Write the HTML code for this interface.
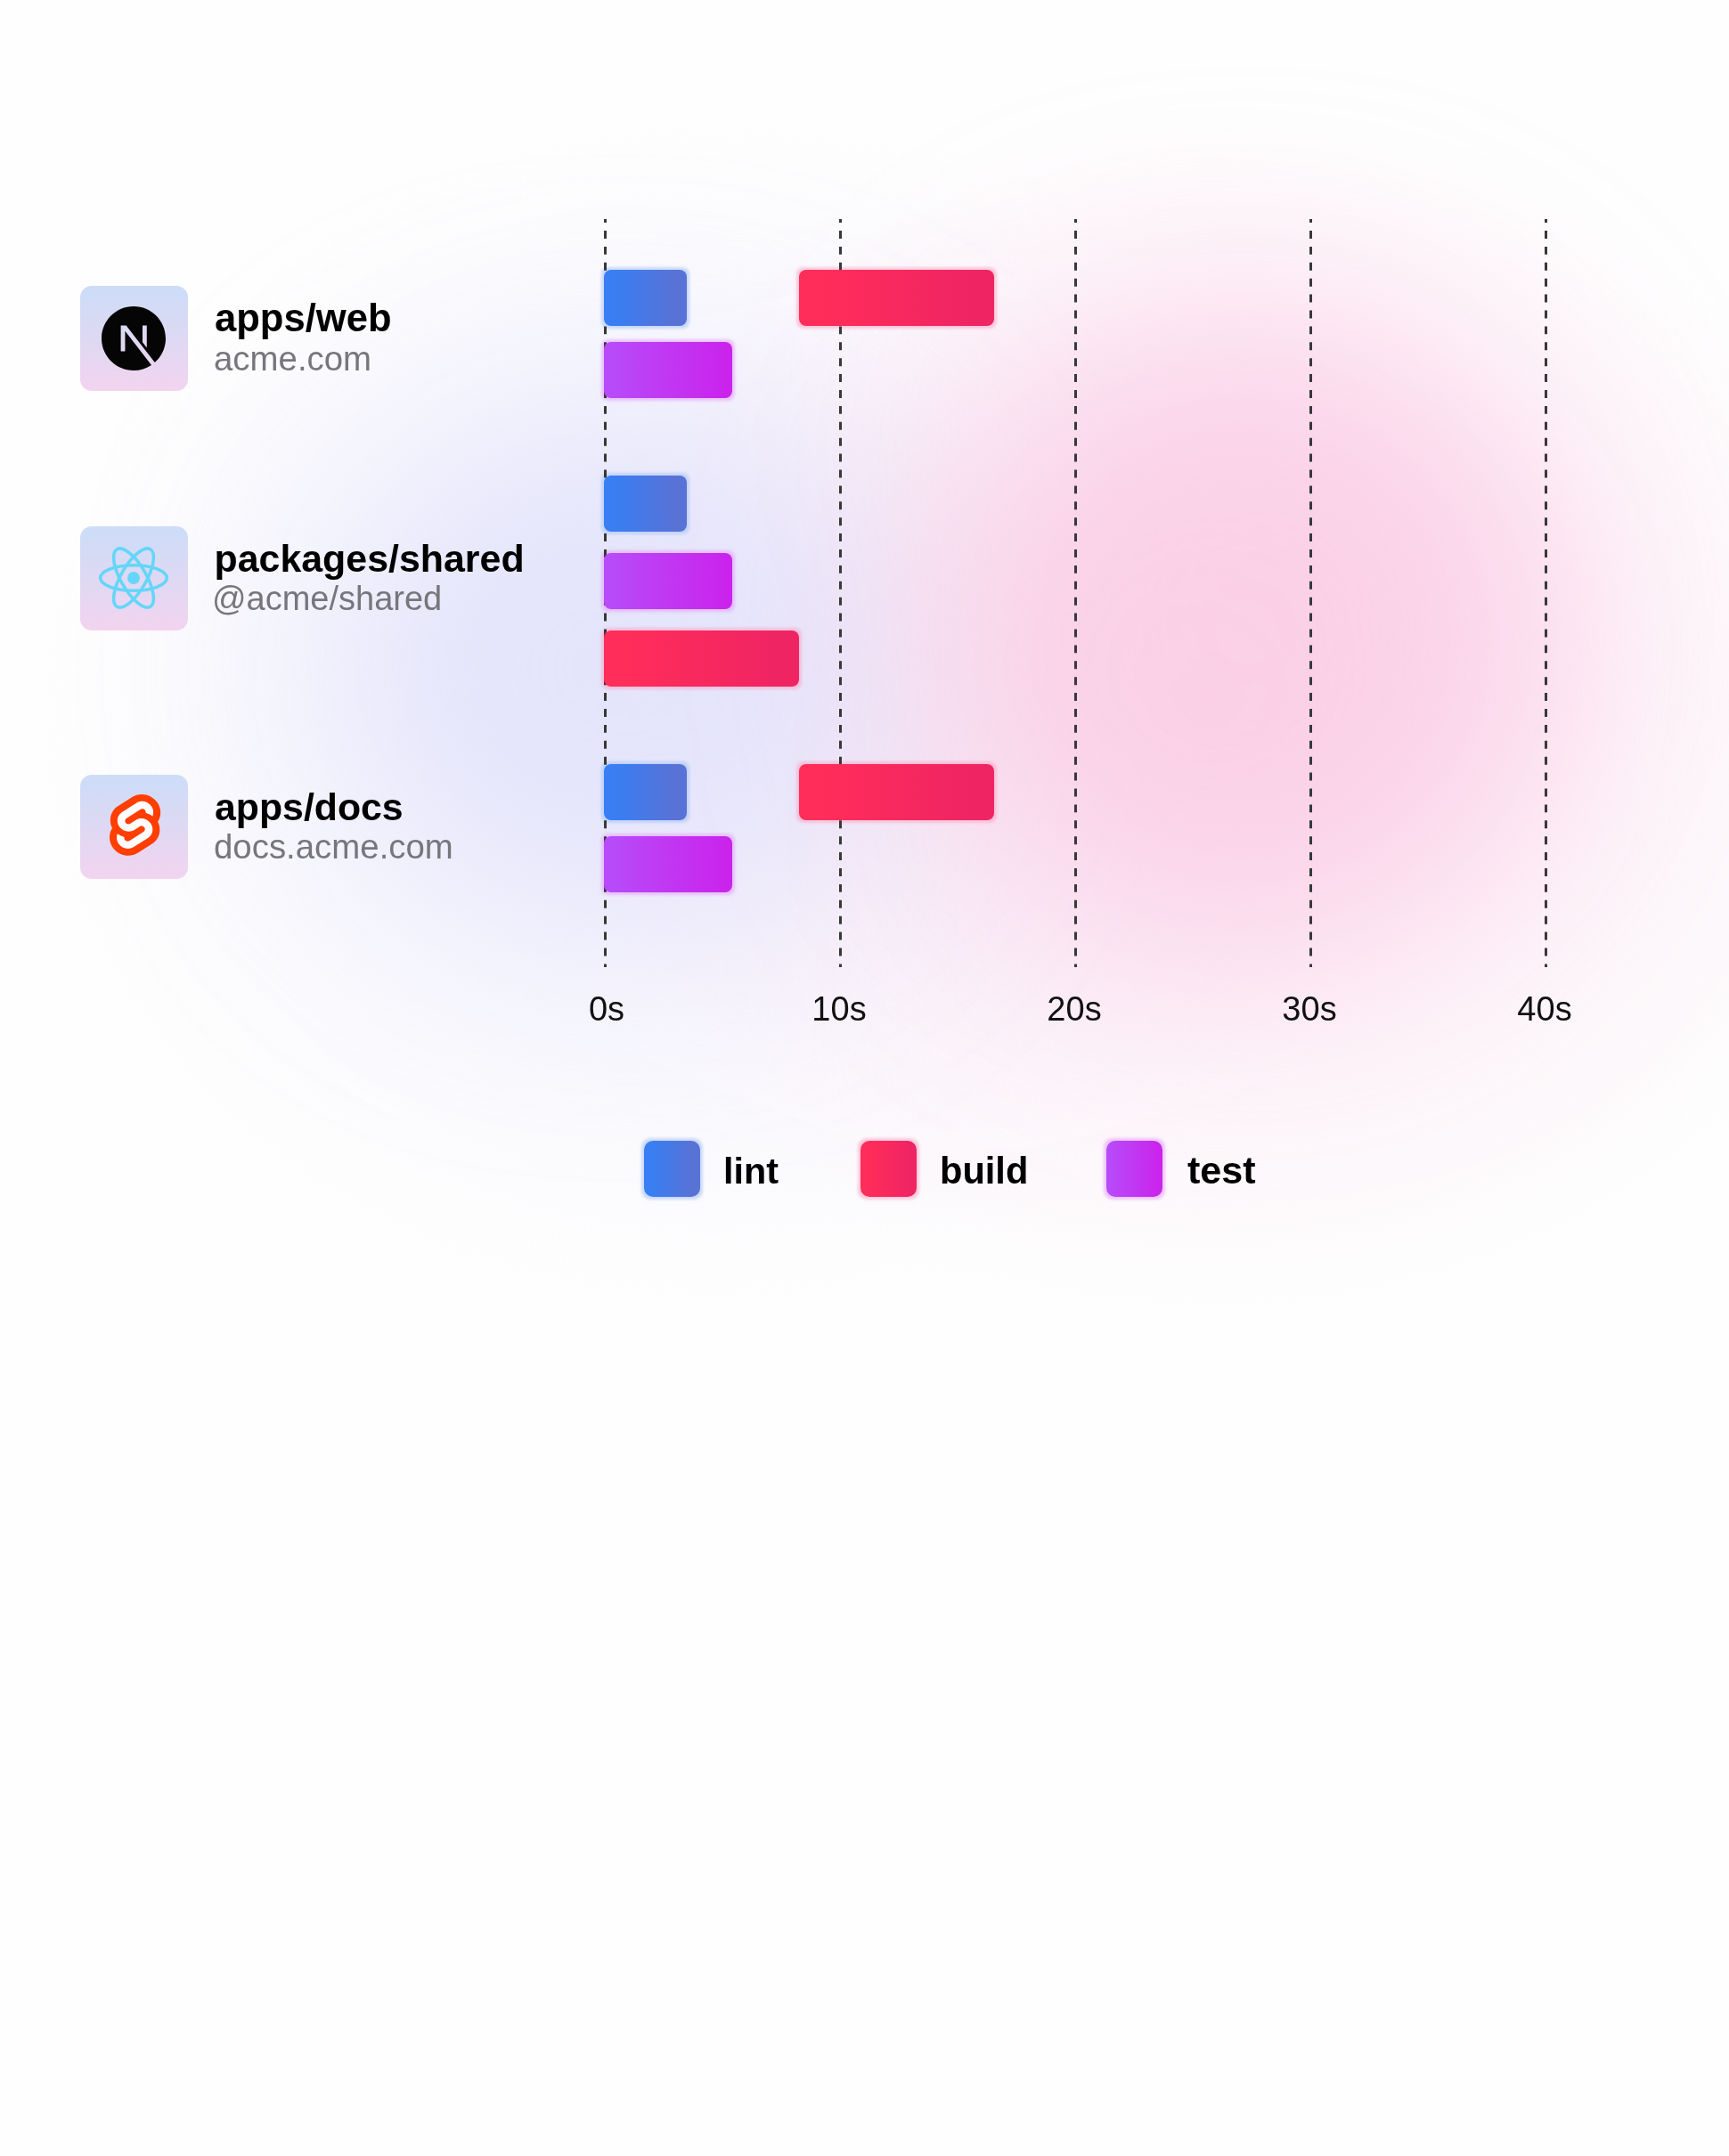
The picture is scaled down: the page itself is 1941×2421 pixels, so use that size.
<!DOCTYPE html>
<html>
<head>
<meta charset="utf-8">
<style>
html,body{margin:0;padding:0;}
body{width:1941px;height:2421px;overflow:hidden;position:relative;background:#fefefe;font-family:"Liberation Sans",sans-serif;}
#bg{position:absolute;left:0;top:0;width:1941px;height:2421px;}
svg{position:absolute;left:0;top:0;will-change:transform;}
</style>
</head>
<body>
<svg id="bg" width="1941" height="2421" viewBox="0 0 1941 2421">
  <defs>
    <filter id="b120" x="-50%" y="-50%" width="200%" height="200%"><feGaussianBlur stdDeviation="120"/></filter>
    <radialGradient id="tailB" cx="0.5" cy="0.5" r="0.5">
      <stop offset="0" stop-color="#eceafb" stop-opacity="0.75"/>
      <stop offset="0.55" stop-color="#f1f0fc" stop-opacity="0.45"/>
      <stop offset="0.85" stop-color="#f6f5fd" stop-opacity="0.22"/>
      <stop offset="1" stop-color="#fafafe" stop-opacity="0"/>
    </radialGradient>
    <radialGradient id="tailP" cx="0.5" cy="0.5" r="0.5">
      <stop offset="0" stop-color="#fbe2f0" stop-opacity="0.8"/>
      <stop offset="0.55" stop-color="#fbe8f3" stop-opacity="0.5"/>
      <stop offset="0.85" stop-color="#fcf1f8" stop-opacity="0.3"/>
      <stop offset="1" stop-color="#fdf8fb" stop-opacity="0"/>
    </radialGradient>
  </defs>
  <ellipse cx="800" cy="800" rx="780" ry="680" fill="url(#tailB)"/>
  <ellipse cx="1360" cy="800" rx="800" ry="680" fill="url(#tailP)"/>
  <ellipse cx="700" cy="750" rx="340" ry="300" fill="#e4e4fb" filter="url(#b120)"/>
  <ellipse cx="1400" cy="710" rx="360" ry="360" fill="#fbcde6" fill-opacity="0.9" filter="url(#b120)"/>
</svg>

<svg width="1941" height="2421" viewBox="0 0 1941 2421">
  <defs>
    <linearGradient id="iconBg" x1="0" y1="0" x2="0" y2="1">
      <stop offset="0.1" stop-color="#cfdcf7"/>
      <stop offset="1" stop-color="#f2d4ef"/>
    </linearGradient>
    <linearGradient id="gLint" x1="0" y1="0" x2="1" y2="0">
      <stop offset="0.15" stop-color="#397ef2"/>
      <stop offset="0.85" stop-color="#5872d6"/>
    </linearGradient>
    <linearGradient id="gBuild" x1="0" y1="0" x2="1" y2="0">
      <stop offset="0.1" stop-color="#ff2d59"/>
      <stop offset="0.9" stop-color="#ef2463"/>
    </linearGradient>
    <linearGradient id="gTest" x1="0" y1="0" x2="1" y2="0">
      <stop offset="0.05" stop-color="#b74bf9"/>
      <stop offset="0.95" stop-color="#ca24ec"/>
    </linearGradient>
    <filter id="glowB" x="-30%" y="-50%" width="160%" height="200%">
      <feMorphology in="SourceAlpha" operator="dilate" radius="3" result="d"/>
      <feGaussianBlur in="d" stdDeviation="1.6" result="b"/>
      <feFlood flood-color="#a9c4f7" flood-opacity="0.6"/>
      <feComposite in2="b" operator="in"/>
    </filter>
    <filter id="glowR" x="-30%" y="-50%" width="160%" height="200%">
      <feMorphology in="SourceAlpha" operator="dilate" radius="3" result="d"/>
      <feGaussianBlur in="d" stdDeviation="1.6" result="b"/>
      <feFlood flood-color="#fb9dbd" flood-opacity="0.5"/>
      <feComposite in2="b" operator="in"/>
    </filter>
    <filter id="glowP" x="-30%" y="-50%" width="160%" height="200%">
      <feMorphology in="SourceAlpha" operator="dilate" radius="3" result="d"/>
      <feGaussianBlur in="d" stdDeviation="1.6" result="b"/>
      <feFlood flood-color="#e3a3fb" flood-opacity="0.6"/>
      <feComposite in2="b" operator="in"/>
    </filter>
  </defs>

  <!-- bar glows -->
  <rect x="678" y="303" width="93" height="63" rx="8" fill="#000" filter="url(#glowB)"/>
  <rect x="897" y="303" width="219" height="63" rx="8" fill="#000" filter="url(#glowR)"/>
  <rect x="678" y="384" width="144" height="63" rx="8" fill="#000" filter="url(#glowP)"/>
  <rect x="678" y="534" width="93" height="63" rx="8" fill="#000" filter="url(#glowB)"/>
  <rect x="678" y="621" width="144" height="63" rx="8" fill="#000" filter="url(#glowP)"/>
  <rect x="678" y="708" width="219" height="63" rx="8" fill="#000" filter="url(#glowR)"/>
  <rect x="678" y="858" width="93" height="63" rx="8" fill="#000" filter="url(#glowB)"/>
  <rect x="897" y="858" width="219" height="63" rx="8" fill="#000" filter="url(#glowR)"/>
  <rect x="678" y="939" width="144" height="63" rx="8" fill="#000" filter="url(#glowP)"/>

  <!-- dashed grid lines -->
  <g stroke="#383838" stroke-width="3" stroke-dasharray="8.95 8.95" stroke-dashoffset="4.9">
    <line x1="679.5" y1="246" x2="679.5" y2="1086"/>
    <line x1="943.5" y1="246" x2="943.5" y2="1086"/>
    <line x1="1207.5" y1="246" x2="1207.5" y2="1086"/>
    <line x1="1471.5" y1="246" x2="1471.5" y2="1086"/>
    <line x1="1735.5" y1="246" x2="1735.5" y2="1086"/>
  </g>

  <!-- bars -->
  <rect x="678" y="303" width="93" height="63" rx="8" fill="url(#gLint)"/>
  <rect x="897" y="303" width="219" height="63" rx="8" fill="url(#gBuild)"/>
  <rect x="678" y="384" width="144" height="63" rx="8" fill="url(#gTest)"/>
  <rect x="678" y="534" width="93" height="63" rx="8" fill="url(#gLint)"/>
  <rect x="678" y="621" width="144" height="63" rx="8" fill="url(#gTest)"/>
  <rect x="678" y="708" width="219" height="63" rx="8" fill="url(#gBuild)"/>
  <rect x="678" y="858" width="93" height="63" rx="8" fill="url(#gLint)"/>
  <rect x="897" y="858" width="219" height="63" rx="8" fill="url(#gBuild)"/>
  <rect x="678" y="939" width="144" height="63" rx="8" fill="url(#gTest)"/>

  <!-- icon boxes -->
  <rect x="90" y="321" width="121" height="118" rx="13" fill="url(#iconBg)"/>
  <rect x="90" y="591" width="121" height="117" rx="13" fill="url(#iconBg)"/>
  <rect x="90" y="870" width="121" height="117" rx="13" fill="url(#iconBg)"/>

  <!-- next.js -->
  <g transform="translate(114,344) scale(3)">
    <path fill="#050505" d="M18.665 21.978C16.758 23.255 14.465 24 12 24 5.377 24 0 18.623 0 12S5.377 0 12 0s12 5.377 12 12c0 3.583-1.574 6.801-4.067 9.001L9.219 7.2H7.2v9.596h1.615V9.251l9.85 12.727Zm-3.332-8.533 1.6 2.061V7.2h-1.6v6.245Z"/>
  </g>

  <!-- react -->
  <g transform="translate(150,649) scale(3.39)" fill="none" stroke="#64d6f8" stroke-width="1.05">
    <circle r="2.05" fill="#64d6f8" stroke="none"/>
    <ellipse rx="11" ry="4.2"/>
    <ellipse rx="11" ry="4.2" transform="rotate(60)"/>
    <ellipse rx="11" ry="4.2" transform="rotate(120)"/>
  </g>

  <!-- svelte -->
  <g transform="translate(123,892) scale(0.583)">
    <path fill="#ff3e00" d="M91.8 15.6C80.9-0.1 59.2-4.7 43.6 5.2L16.1 22.8C8.6 27.5 3.4 35.2 1.9 43.9c-1.3 7.300-0.2 14.8 3.3 21.3-2.4 3.6-4 7.6-4.7 11.8-1.6 8.9 0.5 18.100 5.7 25.4 11 15.7 32.6 20.3 48.2 10.4l27.5-17.5c7.5-4.7 12.7-12.4 14.2-21.1 1.3-7.3 0.2-14.8-3.3-21.3 2.4-3.6 4-7.6 4.7-11.8 1.7-9-0.4-18.2-5.7-25.5"/>
    <path fill="#fff" d="M40.9 103.9c-8.9 2.3-18.2-1.2-23.4-8.7-3.2-4.4-4.4-9.9-3.5-15.3 0.2-0.9 0.4-1.7 0.6-2.6l0.5-1.6 1.4 1c3.3 2.4 6.9 4.2 10.8 5.4l1 0.3-0.1 1c-0.1 1.4 0.3 2.9 1.100 4.1 1.6 2.3 4.4 3.4 7.1 2.7 0.6-0.2 1.2-0.4 1.7-0.7L65.5 72c1.4-0.9 2.3-2.2 2.6-3.8 0.3-1.6-0.1-3.3-1-4.6-1.6-2.3-4.4-3.3-7.1-2.6-0.6 0.2-1.2 0.4-1.7 0.7l-10.5 6.7c-1.7 1.1-3.6 1.9-5.6 2.4-8.9 2.3-18.2-1.2-23.4-8.7-3.1-4.4-4.4-9.9-3.4-15.3 0.9-5.2 4.1-9.9 8.6-12.7l27.5-17.5c1.7-1.1 3.6-1.9 5.6-2.5 8.9-2.3 18.2 1.2 23.4 8.7 3.2 4.4 4.4 9.9 3.5 15.3-0.2 0.9-0.4 1.7-0.7 2.6l-0.5 1.6-1.4-1c-3.3-2.4-6.9-4.2-10.8-5.4l-1-0.3 0.1-1c0.1-1.4-0.3-2.9-1.1-4.1-1.6-2.3-4.4-3.3-7.1-2.6-0.6 0.2-1.2 0.4-1.7 0.7L32.4 46.1c-1.4 0.9-2.3 2.2-2.6 3.8s0.1 3.3 1 4.6c1.6 2.3 4.4 3.3 7.1 2.6 0.6-0.2 1.2-0.4 1.7-0.7l10.5-6.7c1.7-1.1 3.6-1.9 5.6-2.5 8.9-2.3 18.2 1.2 23.4 8.7 3.2 4.4 4.4 9.9 3.5 15.3-0.9 5.2-4.1 9.9-8.6 12.7l-27.5 17.5c-1.7 1.1-3.6 1.9-5.6 2.5"/>
  </g>

  <!-- labels -->
  <g font-family="Liberation Sans, sans-serif">
    <text x="241" y="371.6" font-size="43.6" font-weight="bold" fill="#000">apps/web</text>
    <text x="240" y="415.8" font-size="38.4" fill="#76767c">acme.com</text>
    <text x="240.5" y="641.8" font-size="42.9" font-weight="bold" fill="#000">packages/shared</text>
    <text x="238" y="684.6" font-size="38" fill="#76767c">@acme/shared</text>
    <text x="241" y="920.7" font-size="42.8" font-weight="bold" fill="#000">apps/docs</text>
    <text x="240" y="963.7" font-size="38.4" fill="#76767c">docs.acme.com</text>

    <g font-size="38" fill="#111" text-anchor="middle">
      <text x="681" y="1146">0s</text>
      <text x="942" y="1146">10s</text>
      <text x="1206" y="1146">20s</text>
      <text x="1470" y="1146">30s</text>
      <text x="1734" y="1146">40s</text>
    </g>

    <!-- legend -->
    <rect x="723" y="1281" width="63" height="63" rx="10" fill="#000" filter="url(#glowB)"/>
    <rect x="723" y="1281" width="63" height="63" rx="10" fill="url(#gLint)"/>
    <rect x="966" y="1281" width="63" height="63" rx="10" fill="#000" filter="url(#glowR)"/>
    <rect x="966" y="1281" width="63" height="63" rx="10" fill="url(#gBuild)"/>
    <rect x="1242" y="1281" width="63" height="63" rx="10" fill="#000" filter="url(#glowP)"/>
    <rect x="1242" y="1281" width="63" height="63" rx="10" fill="url(#gTest)"/>
    <g font-size="42" font-weight="bold" fill="#000">
      <text x="812" y="1329" font-size="41.3">lint</text>
      <text x="1055" y="1329" font-size="41.6">build</text>
      <text x="1333" y="1329" font-size="43.1">test</text>
    </g>
  </g>
</svg>
</body>
</html>
